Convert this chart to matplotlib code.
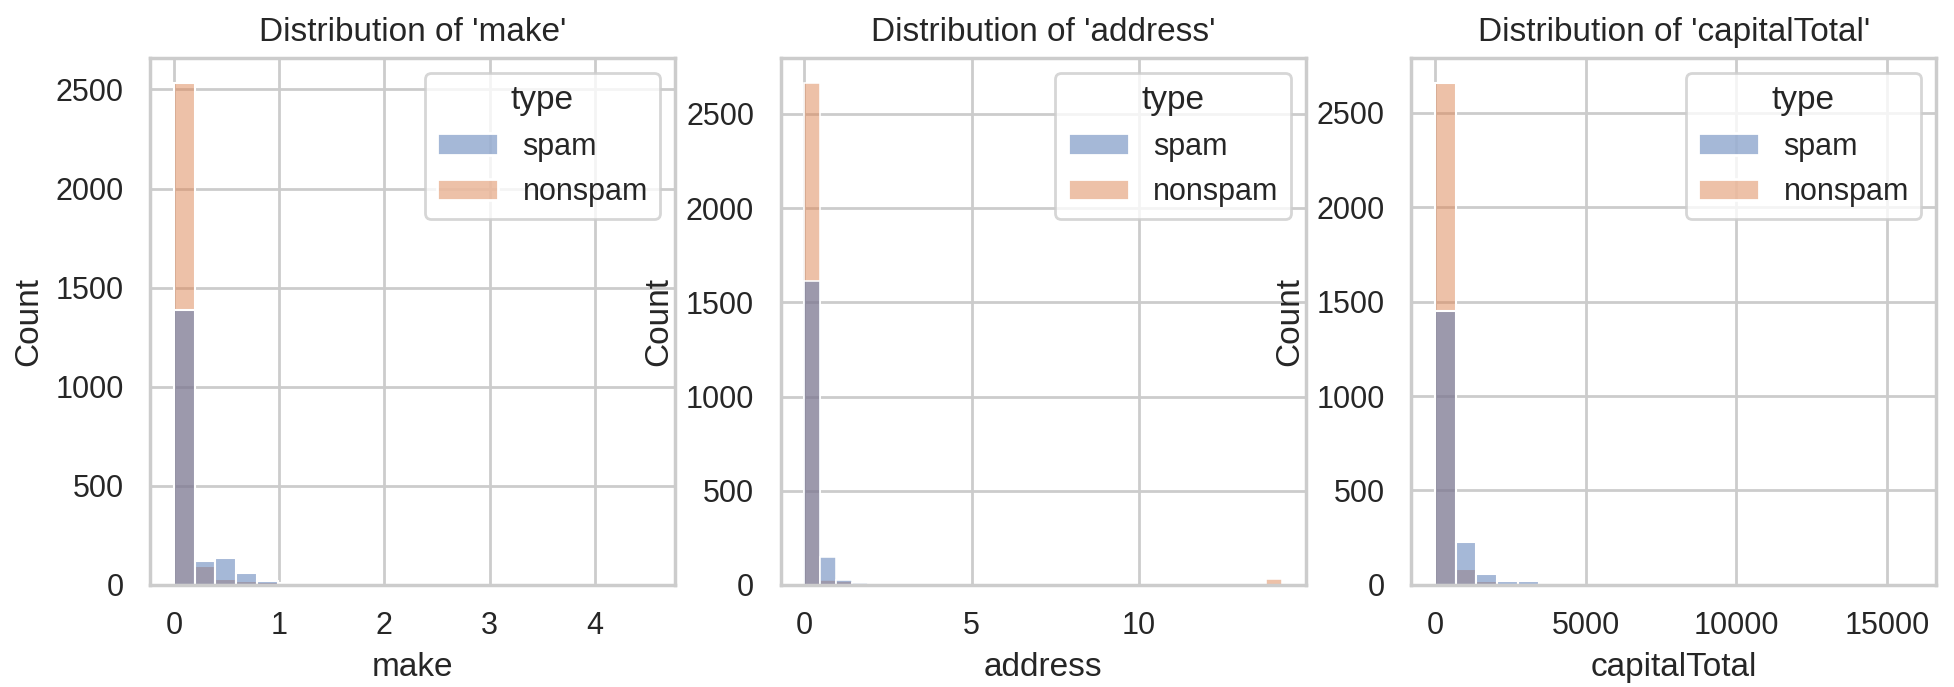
import matplotlib
matplotlib.use('Agg')
import matplotlib.pyplot as plt
import numpy as np
import pandas as pd
import seaborn as sns

sns.set_theme(style='whitegrid')
plt.rcParams['font.family'] = ['Liberation Sans', 'DejaVu Sans']

types = ['spam', 'nonspam']

# bin counts (shared bins per feature)
make_range = (0, 4.54)
make_spam = [1388, 120, 135, 59, 18, 8, 3, 2, 2, 1, 1, 1, 0, 1, 0, 0, 0, 0, 0, 0, 0, 0, 1]
make_nonspam = [2532, 96, 29, 18, 13, 8, 2, 2, 1, 1, 1, 0, 1, 0, 0, 1, 0, 0, 0, 0, 0, 0, 1]

address_range = (0, 14.28)
address_spam = [1614, 149, 27, 12, 3, 2, 1, 1] + [0] * 22
address_nonspam = [2664, 25, 21, 3, 2, 1] + [0] * 23 + [33]

capital_range = (1, 15841)
capital_spam = [1450, 225, 60, 22, 22, 5, 3, 2, 1, 1, 0, 1] + [0] * 10 + [1]
capital_nonspam = [2656, 82, 20, 5, 3, 1, 1] + [0] * 16

features = [
    ('make', make_range, make_spam, make_nonspam),
    ('address', address_range, address_spam, address_nonspam),
    ('capitalTotal', capital_range, capital_spam, capital_nonspam),
]

fig, axes = plt.subplots(1, 3, figsize=(1954 / 200, 687 / 200), dpi=200)
fig.subplots_adjust(left=0.0768, right=0.991, top=0.9156, bottom=0.1485, wspace=0.2)

for ax, (name, rng, spam, nonspam) in zip(axes, features):
    n = len(spam)
    edges = np.linspace(rng[0], rng[1], n + 1)
    centers = (edges[:-1] + edges[1:]) / 2
    df = pd.DataFrame({
        name: np.concatenate([centers, centers]),
        'count': spam + nonspam,
        'type': ['spam'] * n + ['nonspam'] * n,
    })
    sns.histplot(data=df, x=name, weights='count', hue='type', hue_order=types,
                 bins=n, binrange=rng, ax=ax)
    ax.set_title(f"Distribution of '{name}'")
    ax.set_ylabel('Count')

fig.savefig('out.png', dpi=200)
